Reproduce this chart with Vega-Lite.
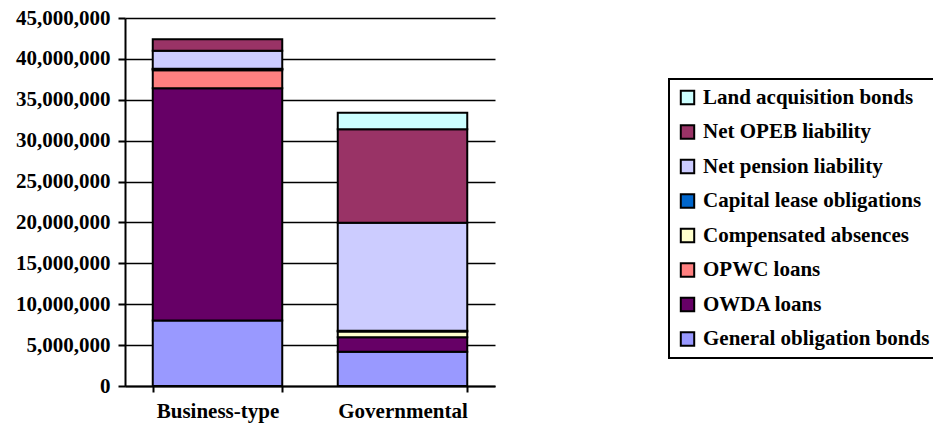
{
  "$schema": "https://vega.github.io/schema/vega-lite/v6.json",
  "autosize": {"type": "none"},
  "width": 370,
  "height": 368,
  "padding": {"left": 125, "top": 18, "right": 438, "bottom": 37},
  "background": "white",
  "data": {
    "values": [
      {"fund": "Business-type", "debt": "General obligation bonds", "amount": 8000000},
      {"fund": "Business-type", "debt": "OWDA loans", "amount": 28400000},
      {"fund": "Business-type", "debt": "OPWC loans", "amount": 2200000},
      {"fund": "Business-type", "debt": "Compensated absences", "amount": 150000},
      {"fund": "Business-type", "debt": "Capital lease obligations", "amount": 50000},
      {"fund": "Business-type", "debt": "Net pension liability", "amount": 2200000},
      {"fund": "Business-type", "debt": "Net OPEB liability", "amount": 1400000},
      {"fund": "Governmental", "debt": "General obligation bonds", "amount": 4200000},
      {"fund": "Governmental", "debt": "OWDA loans", "amount": 1750000},
      {"fund": "Governmental", "debt": "Compensated absences", "amount": 700000},
      {"fund": "Governmental", "debt": "Capital lease obligations", "amount": 100000},
      {"fund": "Governmental", "debt": "Net pension liability", "amount": 13200000},
      {"fund": "Governmental", "debt": "Net OPEB liability", "amount": 11450000},
      {"fund": "Governmental", "debt": "Land acquisition bonds", "amount": 2000000}
    ]
  },
  "transform": [
    {"calculate": "indexof(['General obligation bonds','OWDA loans','OPWC loans','Compensated absences','Capital lease obligations','Net pension liability','Net OPEB liability','Land acquisition bonds'], datum.debt)", "as": "stackOrder"}
  ],
  "mark": {"type": "bar", "stroke": "black", "strokeWidth": 2},
  "encoding": {
    "x": {
      "field": "fund",
      "type": "nominal",
      "title": null,
      "scale": {"paddingInner": 0.3, "paddingOuter": 0.15},
      "axis": {
        "labelAngle": 0,
        "labelFont": "Liberation Serif, Times New Roman, serif",
        "labelFontWeight": "bold",
        "labelFontSize": 21,
        "labelColor": "black",
        "labelPadding": 8,
        "domainColor": "black",
        "domainWidth": 2,
        "tickColor": "black",
        "tickWidth": 2,
        "tickSize": 6,
        "tickBand": "extent"
      }
    },
    "y": {
      "field": "amount",
      "type": "quantitative",
      "aggregate": "sum",
      "title": null,
      "scale": {"domain": [0, 45000000]},
      "axis": {
        "values": [0, 5000000, 10000000, 15000000, 20000000, 25000000, 30000000, 35000000, 40000000, 45000000],
        "format": ",d",
        "labelFont": "Liberation Serif, Times New Roman, serif",
        "labelFontWeight": "bold",
        "labelFontSize": 21,
        "labelColor": "black",
        "labelPadding": 8,
        "domainColor": "black",
        "domainWidth": 2,
        "tickColor": "black",
        "tickWidth": 2,
        "tickSize": 7,
        "grid": true,
        "gridColor": "black",
        "gridWidth": 1.5
      }
    },
    "color": {
      "field": "debt",
      "type": "nominal",
      "title": null,
      "scale": {
        "domain": ["Land acquisition bonds", "Net OPEB liability", "Net pension liability", "Capital lease obligations", "Compensated absences", "OPWC loans", "OWDA loans", "General obligation bonds"],
        "range": ["#CCFFFF", "#993366", "#CCCCFF", "#0066CC", "#FFFFCC", "#FF8080", "#660066", "#9999FF"]
      },
      "legend": {
        "orient": "none",
        "legendX": 544,
        "legendY": 61,
        "strokeColor": "black",
        "fillColor": "white",
        "padding": 8,
        "symbolType": "square",
        "symbolSize": 180,
        "symbolStrokeColor": "black",
        "symbolStrokeWidth": 2,
        "symbolOpacity": 1,
        "labelFont": "Liberation Serif, Times New Roman, serif",
        "labelFontWeight": "bold",
        "labelFontSize": 21,
        "labelColor": "black",
        "labelLimit": 400,
        "rowPadding": 11.5,
        "labelOffset": 5,
        "encode": {"legend": {"update": {"strokeWidth": {"value": 2}}}}
      }
    },
    "order": {"field": "stackOrder", "type": "quantitative", "sort": "ascending"}
  },
  "config": {"view": {"stroke": null}}
}
